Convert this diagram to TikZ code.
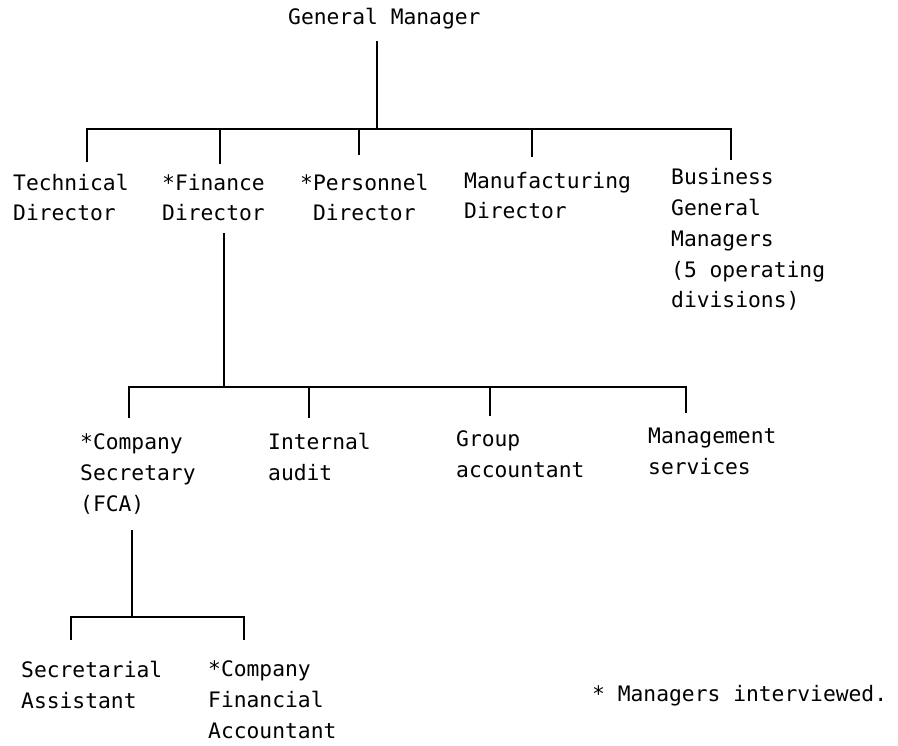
\documentclass[tikz,border=0pt]{standalone}
\usepackage{fontspec}
\setmonofont{DejaVu Sans Mono}
\begin{document}
\begin{tikzpicture}[x=1pt,y=-1pt,
  % multi-line labels sit on the baseline of their last line
  lbl/.style={anchor=base west, inner sep=0pt, align=left,
    font=\ttfamily\fontsize{21.3pt}{30.8pt}\selectfont},
  conn/.style={line width=2.4pt, line join=miter}]
\useasboundingbox (0,0) rectangle (898,746);

% ---- people ----
\node[lbl] (gm)   at (288,25)  {General Manager};
\node[lbl] (tech) at (13,221)  {Technical\\Director};
\node[lbl] (fin)  at (162,221) {*Finance\\Director};
\node[lbl] (pers) at (300,221) {*Personnel\\\hphantom{*}Director};
\node[lbl] (manu) at (464,219) {Manufacturing\\Director};
\node[lbl] (bus)  at (671,308) {Business\\General\\Managers\\(5 operating\\divisions)};

\node[lbl] (cs)   at (80,511)  {*Company\\Secretary\\(FCA)};
\node[lbl] (ia)   at (268,480) {Internal\\audit};
\node[lbl] (ga)   at (456,477) {Group\\accountant};
\node[lbl] (ms)   at (648,474) {Management\\services};

\node[lbl] (sa)   at (21,708)  {Secretarial\\Assistant};
\node[lbl] (cfa)  at (208,738) {*Company\\Financial\\Accountant};

\node[lbl] (note) at (592,701) {* Managers interviewed.};

% ---- connector end points ----
\coordinate (gm-out)   at (377,41);
\coordinate (j1)       at (377,129);
\coordinate (tech-in)  at (87,162);
\coordinate (fin-in)   at (220,164);
\coordinate (pers-in)  at (359,155);
\coordinate (manu-in)  at (532,157);
\coordinate (bus-in)   at (731,160);

\coordinate (fin-out)  at (224,233);
\coordinate (j2)       at (224,387);
\coordinate (cs-in)    at (129,418);
\coordinate (ia-in)    at (309,418);
\coordinate (ga-in)    at (490,416);
\coordinate (ms-in)    at (686,413);

\coordinate (cs-out)   at (132,530);
\coordinate (j3)       at (132,617);
\coordinate (sa-in)    at (71,640);
\coordinate (cfa-in)   at (244,640);

% ---- General Manager's direct reports ----
\draw[conn] (gm-out) -- (j1);
\draw[conn] (tech-in) |- (j1) -| (bus-in);
\draw[conn] (fin-in |- j1) -- (fin-in);
\draw[conn] (pers-in |- j1) -- (pers-in);
\draw[conn] (manu-in |- j1) -- (manu-in);

% ---- Finance Director's department ----
\draw[conn] (fin-out) -- (j2);
\draw[conn] (cs-in) |- (j2) -| (ms-in);
\draw[conn] (ia-in |- j2) -- (ia-in);
\draw[conn] (ga-in |- j2) -- (ga-in);

% ---- Company Secretary's staff ----
\draw[conn] (cs-out) -- (j3);
\draw[conn] (sa-in) |- (j3) -| (cfa-in);
\end{tikzpicture}
\end{document}
